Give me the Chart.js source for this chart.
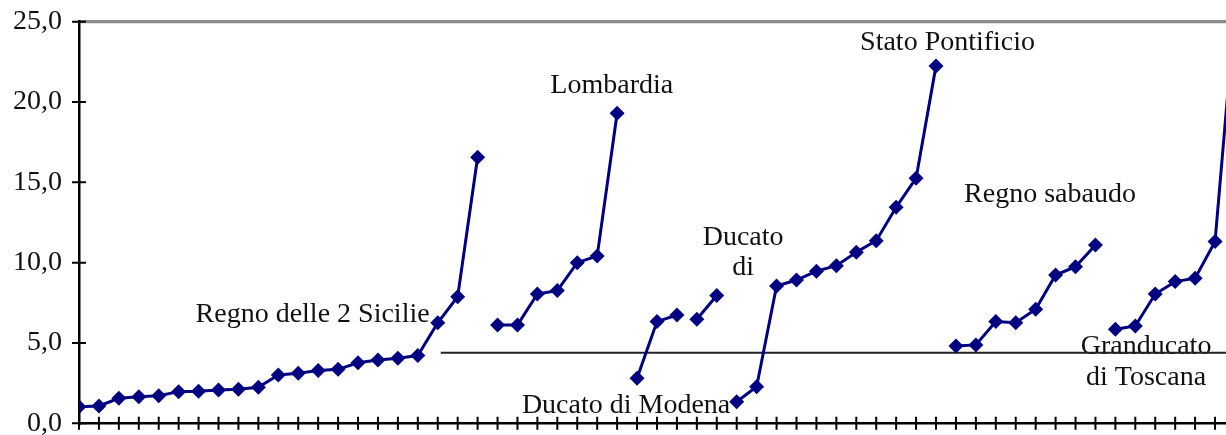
<!DOCTYPE html>
<html>
<head>
<meta charset="utf-8">
<script src="https://cdn.jsdelivr.net/npm/chart.js@4/dist/chart.umd.min.js"></script>
<style>
  html, body { margin: 0; padding: 0; background: #fff; overflow: hidden; }
  #wrap { width: 1226px; height: 435px; position: relative; }
</style>
</head>
<body>
<div id="wrap"><canvas id="c"></canvas></div>
<script>
// Each state is a run of consecutive positions on the x axis; lines break between states.
const sicilieStart = 0;
const sicilie = [1.03, 1.08, 1.56, 1.66, 1.72, 1.97, 2.0, 2.07, 2.12, 2.24, 3.01, 3.11, 3.28, 3.36, 3.77, 3.94, 4.05, 4.22, 6.26, 7.88, 16.56];
const lombardiaStart = 21;
const lombardia = [6.12, 6.12, 8.05, 8.26, 10.0, 10.42, 19.3];
const modenaStart = 28;
const modena = [2.8, 6.33, 6.74];
const parmaStart = 31;
const parma = [6.48, 7.95];
const pontificioStart = 33;
const pontificio = [1.34, 2.28, 8.55, 8.92, 9.47, 9.81, 10.65, 11.37, 13.45, 15.26, 22.25];
const sabaudoStart = 44;
const sabaudo = [4.81, 4.88, 6.33, 6.26, 7.1, 9.23, 9.75, 11.1];
const toscanaStart = 52;
const toscana = [5.85, 6.06, 8.05, 8.82, 9.03, 11.31, 25.8];

// reference level drawn across the right part of the plot
const refLevel = 4.39;
const refFrom = 18.15;
const refTo = 62;

const yTicks = [0, 5, 10, 15, 20, 25];

// text boxes, anchored in data units (x position, baseline value)
const stateLabels = [
  { lines: ['Regno delle 2 Sicilie'], x: 11.72, y: 6.33 },
  { lines: ['Lombardia'], x: 26.73, y: 20.55 },
  { lines: ['Ducato', 'di'], x: 33.32, y: 11.1 },
  { lines: ['Ducato di Modena'], x: 27.45, y: 0.62 },
  { lines: ['Stato Pontificio'], x: 43.58, y: 23.24 },
  { lines: ['Regno sabaudo'], x: 48.72, y: 13.8 },
  { lines: ['Granducato', 'di Toscana'], x: 53.54, y: 4.31 },
];

const NAVY = '#000080';
const SERIF = '"Liberation Serif", "Times New Roman", serif';

const toPoints = (start, vals) => vals.map((v, i) => ({ x: start + i, y: v }));

const stateSeries = (label, start, vals) => ({
  label,
  data: toPoints(start, vals),
  borderColor: NAVY,
  borderWidth: 3,
  pointStyle: 'rectRot',
  pointRadius: 7.5,
  pointHoverRadius: 7.5,
  pointBackgroundColor: NAVY,
  pointBorderWidth: 0,
  tension: 0,
  fill: false,
});

// crossing tick marks on both axes, like the old spreadsheet style
const crossTicks = {
  id: 'cross-ticks',
  beforeDatasetsDraw(chart) {
    const { ctx, chartArea, scales } = chart;
    ctx.save();
    ctx.strokeStyle = '#000';
    ctx.lineWidth = 2;
    ctx.beginPath();
    yTicks.forEach(v => {
      const py = scales.y.getPixelForValue(v);
      ctx.moveTo(chartArea.left - 7, py);
      ctx.lineTo(chartArea.left + 7, py);
    });
    for (let i = 0; i <= Math.floor(scales.x.max); i++) {
      const px = scales.x.getPixelForValue(i);
      ctx.moveTo(px, chartArea.bottom - 6.5);
      ctx.lineTo(px, chartArea.bottom + 6.5);
    }
    ctx.stroke();
    ctx.restore();
  },
};

const labelsPlugin = {
  id: 'state-labels',
  beforeDatasetsDraw(chart) {
    const { ctx, scales } = chart;
    ctx.save();
    ctx.font = '28px ' + SERIF;
    ctx.fillStyle = '#111';
    ctx.textAlign = 'center';
    ctx.textBaseline = 'alphabetic';
    stateLabels.forEach(l => {
      const px = scales.x.getPixelForValue(l.x);
      const py = scales.y.getPixelForValue(l.y);
      l.lines.forEach((t, i) => ctx.fillText(t, px, py + i * 30.5));
    });
    ctx.restore();
  },
};

new Chart(document.getElementById('c'), {
  type: 'line',
  data: {
    datasets: [
      stateSeries('Regno delle 2 Sicilie', sicilieStart, sicilie),
      stateSeries('Lombardia', lombardiaStart, lombardia),
      stateSeries('Ducato di Modena', modenaStart, modena),
      stateSeries('Ducato di Parma', parmaStart, parma),
      stateSeries('Stato Pontificio', pontificioStart, pontificio),
      stateSeries('Regno sabaudo', sabaudoStart, sabaudo),
      stateSeries('Granducato di Toscana', toscanaStart, toscana),
      {
        label: 'livello',
        data: [{ x: refFrom, y: refLevel }, { x: refTo, y: refLevel }],
        borderColor: '#222',
        borderWidth: 2,
        pointRadius: 0,
        pointHoverRadius: 0,
        fill: false,
      },
    ],
  },
  options: {
    responsive: true,
    maintainAspectRatio: false,
    animation: false,
    layout: { autoPadding: false, padding: { top: 21.7, right: 0, bottom: 0, left: 0 } },
    scales: {
      x: {
        type: 'linear',
        min: 0,
        max: 57.55,
        ticks: { display: false, stepSize: 1, includeBounds: false },
        grid: { display: false, drawTicks: false },
        border: { display: true, color: '#000', width: 2.5 },
        afterFit(scale) { scale.height = 11.7; },
      },
      y: {
        min: 0,
        max: 25,
        afterBuildTicks(scale) { scale.ticks = yTicks.map(v => ({ value: v })); },
        ticks: {
          padding: 17,
          color: '#111',
          font: { family: SERIF, size: 28 },
          callback: v => v.toFixed(1).replace('.', ','),
        },
        grid: {
          drawTicks: false,
          lineWidth: 3.3,
          color: c => (c.tick && c.tick.value === 25 ? '#8c8c8c' : 'rgba(0,0,0,0)'),
        },
        border: { display: true, color: '#000', width: 2.5 },
        afterFit(scale) {
          scale.width = 79;
          scale.paddingTop = 0;
          scale.paddingBottom = 0;
        },
      },
    },
    plugins: {
      legend: { display: false },
      tooltip: { enabled: false },
    },
  },
  plugins: [crossTicks, labelsPlugin],
});
</script>
</body>
</html>
